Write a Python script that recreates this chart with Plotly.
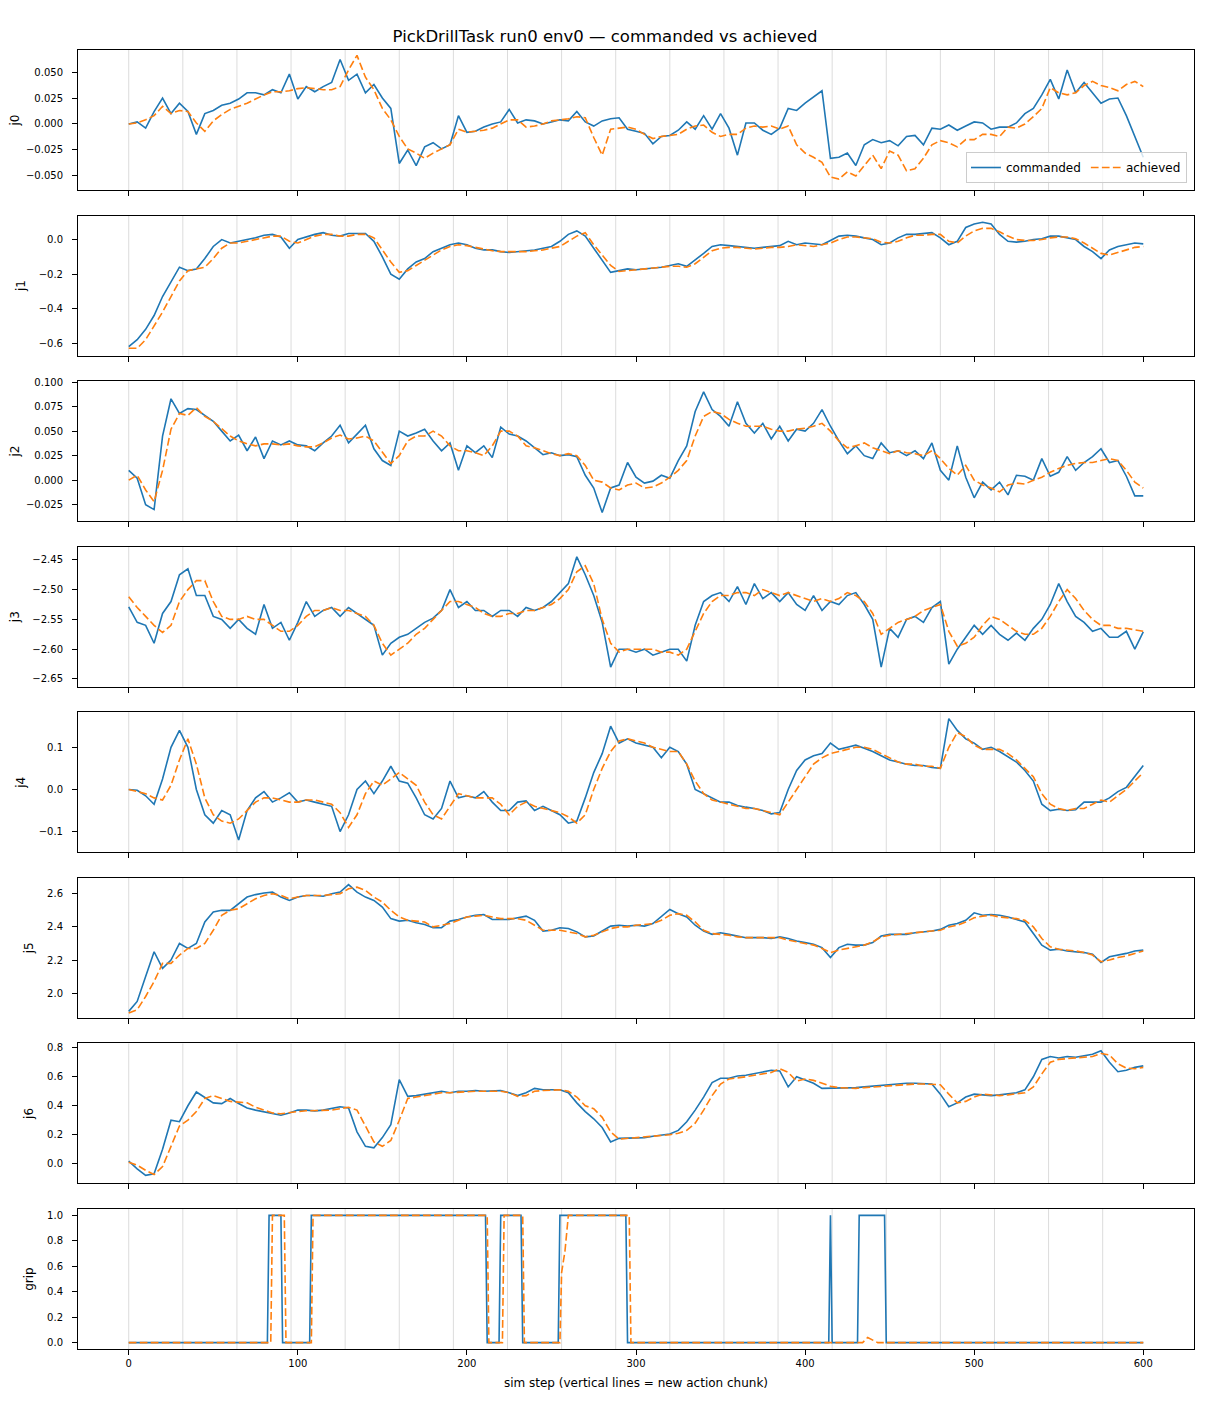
#!/usr/bin/env python3
"""
PickDrillTask run0 env0: commanded vs achieved joint targets, one panel per joint.
"""

import plotly.graph_objects as go
from plotly.subplots import make_subplots

# sim step grid the joint traces were read at
STEPS = list(range(0, 601, 5))

# first step of every action chunk (grey vertical lines)
CHUNK_STARTS = [0, 32, 64, 96, 128, 160, 192, 224, 256, 288, 320, 352, 384, 416, 448, 480, 512, 544, 576]

JOINT_NAMES = ["j0", "j1", "j2", "j3", "j4", "j5", "j6"]

j0_cmd = [
    0.000, 0.002, -0.004, 0.012, 0.025, 0.010, 0.020, 0.012, -0.010, 0.010,
    0.013, 0.018, 0.020, 0.024, 0.030, 0.030, 0.028, 0.033, 0.030, 0.048,
    0.024, 0.036, 0.031, 0.036, 0.040, 0.062, 0.042, 0.048, 0.030, 0.038,
    0.025, 0.015, -0.038, -0.025, -0.040, -0.022, -0.018, -0.024, -0.020, 0.008,
    -0.008, -0.007, -0.003, 0.000, 0.002, 0.014, 0.001, 0.004, 0.003, 0.000,
    0.002, 0.004, 0.003, 0.012, 0.002, -0.002, 0.003, 0.005, 0.006, -0.005,
    -0.007, -0.009, -0.019, -0.012, -0.011, -0.006, 0.002, -0.005, 0.008, -0.005,
    0.010, -0.004, -0.030, 0.001, 0.001, -0.006, -0.010, -0.004, 0.015, 0.013,
    0.020, 0.026, 0.032, -0.033, -0.032, -0.028, -0.040, -0.020, -0.015, -0.018,
    -0.016, -0.021, -0.012, -0.011, -0.020, -0.004, -0.005, -0.001, -0.006, -0.002,
    0.002, 0.001, -0.005, -0.003, -0.003, 0.001, 0.010, 0.015, 0.028, 0.043,
    0.024, 0.052, 0.030, 0.040, 0.030, 0.020, 0.024, 0.025, 0.008, -0.012,
    -0.032,
]
j0_ach = [
    0.000, 0.001, 0.004, 0.008, 0.017, 0.010, 0.013, 0.012, 0.001, -0.007,
    0.003, 0.009, 0.014, 0.017, 0.020, 0.024, 0.028, 0.031, 0.031, 0.032,
    0.034, 0.035, 0.034, 0.033, 0.033, 0.036, 0.052, 0.066, 0.045, 0.033,
    0.015, 0.004, -0.012, -0.024, -0.028, -0.033, -0.028, -0.024, -0.020, -0.005,
    -0.008, -0.007, -0.006, -0.004, 0.000, 0.004, 0.004, -0.003, -0.002, 0.000,
    0.003, 0.004, 0.005, 0.007, 0.006, -0.013, -0.030, -0.005, -0.004, -0.003,
    -0.005, -0.010, -0.014, -0.012, -0.011, -0.010, -0.005, -0.002, -0.001, -0.008,
    -0.012, -0.010, -0.010, -0.004, -0.002, -0.003, -0.002, -0.005, -0.002, -0.020,
    -0.028, -0.032, -0.037, -0.051, -0.053, -0.046, -0.050, -0.040, -0.030, -0.043,
    -0.026, -0.030, -0.045, -0.043, -0.033, -0.020, -0.016, -0.018, -0.022, -0.015,
    -0.015, -0.010, -0.010, -0.012, -0.003, -0.004, 0.000, 0.007, 0.015, 0.035,
    0.030, 0.028, 0.030, 0.037, 0.041, 0.037, 0.035, 0.032, 0.038, 0.041,
    0.036,
]

j1_cmd = [
    -0.62, -0.58, -0.52, -0.44, -0.33, -0.245, -0.16, -0.18, -0.17, -0.11,
    -0.04, 0.00, -0.02, -0.01, 0.00, 0.01, 0.025, 0.03, 0.015, -0.05,
    0.00, 0.015, 0.03, 0.04, 0.025, 0.02, 0.035, 0.035, 0.035, -0.01,
    -0.10, -0.20, -0.23, -0.17, -0.13, -0.11, -0.07, -0.05, -0.03, -0.02,
    -0.03, -0.05, -0.06, -0.06, -0.07, -0.075, -0.07, -0.065, -0.06, -0.05,
    -0.04, -0.01, 0.03, 0.05, 0.02, -0.05, -0.12, -0.19, -0.18, -0.17,
    -0.175, -0.17, -0.165, -0.16, -0.15, -0.14, -0.155, -0.12, -0.08, -0.04,
    -0.03, -0.035, -0.04, -0.045, -0.05, -0.045, -0.04, -0.035, -0.01, -0.03,
    -0.02, -0.025, -0.03, -0.005, 0.02, 0.025, 0.02, 0.01, 0.00, -0.03,
    -0.02, 0.01, 0.03, 0.03, 0.035, 0.04, 0.01, -0.03, -0.01, 0.07,
    0.09, 0.10, 0.09, 0.03, -0.01, -0.015, -0.01, 0.00, 0.005, 0.02,
    0.02, 0.01, 0.00, -0.04, -0.07, -0.11, -0.06, -0.04, -0.03, -0.02,
    -0.025,
]
j1_ach = [
    -0.63, -0.63, -0.58, -0.50, -0.42, -0.33, -0.24, -0.18, -0.17, -0.16,
    -0.11, -0.05, -0.02, -0.02, -0.01, 0.00, 0.01, 0.02, 0.02, -0.01,
    -0.02, 0.00, 0.02, 0.03, 0.03, 0.02, 0.02, 0.03, 0.03, 0.01,
    -0.06, -0.13, -0.19, -0.18, -0.15, -0.12, -0.09, -0.06, -0.04, -0.03,
    -0.035, -0.045, -0.055, -0.065, -0.07, -0.07, -0.07, -0.07, -0.065, -0.06,
    -0.05, -0.04, -0.01, 0.02, 0.04, -0.03, -0.09, -0.15, -0.185, -0.18,
    -0.175, -0.17, -0.165, -0.16, -0.155, -0.155, -0.16, -0.14, -0.10, -0.065,
    -0.05, -0.045, -0.045, -0.05, -0.055, -0.05, -0.045, -0.045, -0.04, -0.03,
    -0.035, -0.04, -0.03, -0.02, 0.00, 0.015, 0.015, 0.01, 0.005, -0.015,
    -0.02, -0.01, 0.01, 0.025, 0.025, 0.03, 0.03, -0.01, -0.02, 0.02,
    0.05, 0.065, 0.065, 0.045, 0.02, 0.00, -0.005, -0.005, 0.00, 0.01,
    0.015, 0.015, 0.005, -0.02, -0.05, -0.08, -0.09, -0.075, -0.06, -0.045,
    -0.04,
]

j2_cmd = [
    0.010, 0.002, -0.025, -0.030, 0.045, 0.083, 0.068, 0.073, 0.072, 0.066,
    0.060, 0.050, 0.040, 0.046, 0.030, 0.044, 0.022, 0.040, 0.036, 0.040,
    0.036, 0.035, 0.030, 0.038, 0.045, 0.056, 0.038, 0.047, 0.056, 0.032,
    0.020, 0.015, 0.050, 0.045, 0.048, 0.052, 0.040, 0.030, 0.038, 0.010,
    0.035, 0.028, 0.035, 0.023, 0.054, 0.047, 0.045, 0.040, 0.033, 0.026,
    0.028, 0.025, 0.026, 0.024, 0.005, -0.008, -0.033, -0.008, -0.005, 0.018,
    0.003, -0.003, -0.001, 0.005, 0.002, 0.020, 0.035, 0.070, 0.090, 0.072,
    0.065, 0.055, 0.080, 0.058, 0.048, 0.058, 0.042, 0.055, 0.040, 0.052,
    0.050, 0.058, 0.072, 0.055, 0.040, 0.027, 0.035, 0.025, 0.022, 0.038,
    0.028, 0.030, 0.025, 0.030, 0.022, 0.038, 0.010, 0.000, 0.035, 0.003,
    -0.018, -0.002, -0.010, -0.002, -0.015, 0.005, 0.004, 0.000, 0.022, 0.004,
    0.008, 0.024, 0.010, 0.018, 0.024, 0.032, 0.018, 0.020, 0.004, -0.016,
    -0.016,
]
j2_ach = [
    0.000, 0.005, -0.010, -0.022, 0.010, 0.052, 0.068, 0.066, 0.074, 0.065,
    0.060, 0.052, 0.045, 0.040, 0.037, 0.035, 0.037, 0.037, 0.036, 0.037,
    0.035, 0.034, 0.034, 0.038, 0.043, 0.046, 0.042, 0.043, 0.045, 0.040,
    0.028, 0.017, 0.025, 0.040, 0.045, 0.045, 0.050, 0.045, 0.035, 0.030,
    0.030, 0.028, 0.025, 0.035, 0.050, 0.050, 0.045, 0.035, 0.033, 0.030,
    0.027, 0.025, 0.027, 0.025, 0.015, 0.000, -0.002, -0.008, -0.010, -0.005,
    -0.003, -0.008, -0.007, -0.003, 0.003, 0.010, 0.020, 0.045, 0.065, 0.070,
    0.068, 0.062, 0.058, 0.055, 0.055, 0.055, 0.052, 0.050, 0.050, 0.052,
    0.053, 0.055, 0.058, 0.050, 0.040, 0.033, 0.035, 0.038, 0.033, 0.030,
    0.027, 0.030, 0.028, 0.027, 0.025, 0.030, 0.022, 0.012, 0.005, 0.015,
    0.000, -0.005, -0.008, -0.012, -0.005, -0.003, -0.004, 0.000, 0.003, 0.008,
    0.012, 0.015, 0.017, 0.018, 0.018, 0.020, 0.022, 0.020, 0.010, -0.002,
    -0.008,
]

j3_cmd = [
    -2.529, -2.555, -2.560, -2.590, -2.540, -2.520, -2.475, -2.465, -2.510, -2.510,
    -2.545, -2.550, -2.565, -2.550, -2.565, -2.575, -2.525, -2.565, -2.555, -2.585,
    -2.555, -2.520, -2.545, -2.535, -2.530, -2.545, -2.530, -2.540, -2.550, -2.560,
    -2.610, -2.590, -2.580, -2.575, -2.565, -2.555, -2.548, -2.535, -2.500, -2.530,
    -2.520, -2.535, -2.535, -2.545, -2.535, -2.535, -2.545, -2.530, -2.535, -2.530,
    -2.520, -2.505, -2.490, -2.445, -2.475, -2.510, -2.555, -2.630, -2.600, -2.600,
    -2.605, -2.600, -2.610, -2.605, -2.600, -2.600, -2.620, -2.560, -2.520, -2.510,
    -2.505, -2.520, -2.495, -2.525, -2.490, -2.515, -2.505, -2.520, -2.505, -2.525,
    -2.535, -2.510, -2.535, -2.520, -2.525, -2.510, -2.505, -2.525, -2.550, -2.630,
    -2.565, -2.580, -2.550, -2.545, -2.555, -2.530, -2.520, -2.625, -2.600, -2.580,
    -2.560, -2.575, -2.560, -2.575, -2.585, -2.573, -2.585, -2.565, -2.550, -2.525,
    -2.490, -2.520, -2.545, -2.555, -2.570, -2.565, -2.580, -2.580, -2.570, -2.600,
    -2.571,
]
j3_ach = [
    -2.512, -2.530, -2.545, -2.560, -2.572, -2.560, -2.520, -2.500, -2.485, -2.485,
    -2.520, -2.545, -2.550, -2.550, -2.545, -2.550, -2.550, -2.560, -2.570, -2.570,
    -2.560, -2.545, -2.535, -2.535, -2.530, -2.535, -2.535, -2.540, -2.545, -2.560,
    -2.590, -2.610, -2.600, -2.590, -2.575, -2.565, -2.550, -2.535, -2.520, -2.520,
    -2.525, -2.530, -2.540, -2.545, -2.545, -2.540, -2.540, -2.535, -2.535, -2.530,
    -2.525, -2.515, -2.500, -2.470, -2.460, -2.490, -2.550, -2.590, -2.605, -2.600,
    -2.600, -2.600, -2.600, -2.605, -2.605, -2.610, -2.600, -2.570, -2.540, -2.520,
    -2.510, -2.510, -2.505, -2.505, -2.510, -2.500, -2.505, -2.510, -2.505, -2.510,
    -2.515, -2.520, -2.515, -2.520, -2.515, -2.505, -2.510, -2.520, -2.540, -2.575,
    -2.565, -2.555, -2.550, -2.545, -2.535, -2.530, -2.525, -2.570, -2.595, -2.590,
    -2.580, -2.560, -2.545, -2.550, -2.560, -2.570, -2.575, -2.575, -2.565, -2.545,
    -2.520, -2.500, -2.515, -2.535, -2.550, -2.560, -2.560, -2.565, -2.565, -2.568,
    -2.570,
]

j4_cmd = [
    0.000, -0.002, -0.015, -0.035, 0.025, 0.100, 0.140, 0.100, 0.000, -0.060,
    -0.080, -0.050, -0.060, -0.120, -0.050, -0.020, -0.005, -0.030, -0.020, -0.008,
    -0.030, -0.025, -0.030, -0.035, -0.040, -0.100, -0.060, 0.000, 0.020, -0.010,
    0.020, 0.055, 0.020, 0.015, -0.020, -0.060, -0.070, -0.045, 0.020, -0.020,
    -0.015, -0.020, -0.005, -0.030, -0.050, -0.050, -0.030, -0.027, -0.050, -0.040,
    -0.050, -0.060, -0.080, -0.075, -0.020, 0.040, 0.085, 0.150, 0.110, 0.120,
    0.110, 0.105, 0.100, 0.075, 0.100, 0.090, 0.060, 0.000, -0.010, -0.020,
    -0.030, -0.030, -0.038, -0.042, -0.045, -0.050, -0.058, -0.055, 0.000, 0.045,
    0.070, 0.080, 0.085, 0.110, 0.095, 0.100, 0.105, 0.098, 0.090, 0.080,
    0.070, 0.065, 0.060, 0.057, 0.057, 0.052, 0.050, 0.168, 0.140, 0.120,
    0.110, 0.095, 0.100, 0.090, 0.078, 0.065, 0.045, 0.020, -0.035, -0.050,
    -0.047, -0.050, -0.048, -0.030, -0.030, -0.030, -0.020, -0.005, 0.005, 0.030,
    0.057,
]
j4_ach = [
    0.000, -0.005, -0.010, -0.020, -0.025, 0.010, 0.070, 0.120, 0.060, -0.020,
    -0.060, -0.075, -0.080, -0.070, -0.050, -0.030, -0.020, -0.020, -0.025, -0.030,
    -0.030, -0.025, -0.025, -0.030, -0.035, -0.055, -0.090, -0.060, -0.010, 0.020,
    0.010, 0.025, 0.040, 0.025, 0.010, -0.030, -0.060, -0.070, -0.040, -0.010,
    -0.015, -0.020, -0.020, -0.020, -0.035, -0.060, -0.040, -0.030, -0.040, -0.045,
    -0.050, -0.055, -0.065, -0.080, -0.060, 0.000, 0.050, 0.090, 0.115, 0.120,
    0.115, 0.110, 0.100, 0.095, 0.090, 0.090, 0.060, 0.020, -0.010, -0.025,
    -0.030, -0.035, -0.040, -0.045, -0.045, -0.050, -0.055, -0.060, -0.030, 0.000,
    0.030, 0.060, 0.075, 0.085, 0.090, 0.095, 0.100, 0.100, 0.095, 0.085,
    0.075, 0.065, 0.060, 0.060, 0.055, 0.055, 0.050, 0.100, 0.135, 0.125,
    0.105, 0.095, 0.095, 0.095, 0.085, 0.070, 0.050, 0.030, -0.010, -0.035,
    -0.045, -0.050, -0.045, -0.045, -0.035, -0.025, -0.030, -0.015, 0.000, 0.020,
    0.040,
]

j5_cmd = [
    1.89, 1.95, 2.10, 2.25, 2.15, 2.20, 2.30, 2.27, 2.30, 2.43,
    2.49, 2.50, 2.50, 2.54, 2.58, 2.595, 2.605, 2.61, 2.58, 2.56,
    2.58, 2.59, 2.59, 2.585, 2.60, 2.61, 2.655, 2.61, 2.58, 2.56,
    2.52, 2.45, 2.435, 2.44, 2.425, 2.415, 2.395, 2.395, 2.435, 2.445,
    2.46, 2.47, 2.475, 2.445, 2.445, 2.445, 2.455, 2.465, 2.44, 2.375,
    2.38, 2.395, 2.39, 2.37, 2.34, 2.345, 2.375, 2.405, 2.41, 2.405,
    2.41, 2.405, 2.42, 2.46, 2.505, 2.48, 2.46, 2.41, 2.375, 2.355,
    2.365, 2.355, 2.345, 2.335, 2.335, 2.335, 2.33, 2.34, 2.33, 2.315,
    2.305, 2.295, 2.275, 2.215, 2.275, 2.295, 2.29, 2.29, 2.305, 2.345,
    2.355, 2.355, 2.355, 2.365, 2.37, 2.375, 2.385, 2.41, 2.42, 2.44,
    2.485, 2.47, 2.475, 2.47, 2.46, 2.445, 2.43, 2.36, 2.29, 2.26,
    2.265, 2.255, 2.25, 2.245, 2.235, 2.185, 2.22, 2.23, 2.24, 2.255,
    2.26,
]
j5_ach = [
    1.88, 1.90, 1.98, 2.07, 2.18, 2.18, 2.23, 2.27, 2.27, 2.30,
    2.38, 2.47, 2.50, 2.51, 2.54, 2.57, 2.59, 2.60, 2.59, 2.57,
    2.58, 2.59, 2.59, 2.59, 2.595, 2.60, 2.63, 2.64, 2.62, 2.58,
    2.55, 2.50, 2.46, 2.44, 2.435, 2.43, 2.40, 2.41, 2.42, 2.44,
    2.46, 2.465, 2.47, 2.46, 2.45, 2.45, 2.45, 2.44, 2.41, 2.38,
    2.38, 2.38, 2.37, 2.36, 2.34, 2.35, 2.37, 2.39, 2.40, 2.40,
    2.41, 2.415, 2.42, 2.44, 2.47, 2.48, 2.47, 2.43, 2.38, 2.36,
    2.355, 2.35, 2.34, 2.335, 2.335, 2.335, 2.335, 2.335, 2.32, 2.31,
    2.30, 2.29, 2.27, 2.245, 2.26, 2.27, 2.28, 2.29, 2.31, 2.34,
    2.35, 2.355, 2.36, 2.365, 2.37, 2.375, 2.38, 2.40, 2.41, 2.43,
    2.455, 2.465, 2.47, 2.46, 2.455, 2.45, 2.44, 2.40, 2.33, 2.28,
    2.265, 2.26, 2.255, 2.245, 2.23, 2.19, 2.20, 2.215, 2.225, 2.24,
    2.255,
]

j6_cmd = [
    0.018, -0.035, -0.080, -0.070, 0.100, 0.300, 0.290, 0.400, 0.495, 0.460,
    0.420, 0.415, 0.450, 0.415, 0.385, 0.370, 0.360, 0.350, 0.335, 0.350,
    0.370, 0.370, 0.365, 0.370, 0.380, 0.393, 0.385, 0.220, 0.120, 0.110,
    0.180, 0.270, 0.580, 0.465, 0.470, 0.480, 0.490, 0.500, 0.490, 0.500,
    0.500, 0.505, 0.500, 0.505, 0.505, 0.490, 0.470, 0.490, 0.520, 0.510,
    0.510, 0.510, 0.490, 0.420, 0.360, 0.310, 0.250, 0.150, 0.175, 0.175,
    0.180, 0.180, 0.190, 0.195, 0.205, 0.230, 0.290, 0.370, 0.460, 0.560,
    0.590, 0.590, 0.605, 0.610, 0.620, 0.630, 0.645, 0.640, 0.530, 0.600,
    0.580, 0.555, 0.520, 0.520, 0.525, 0.520, 0.525, 0.530, 0.535, 0.540,
    0.550, 0.555, 0.555, 0.555, 0.555, 0.550, 0.480, 0.393, 0.420, 0.460,
    0.480, 0.475, 0.470, 0.475, 0.480, 0.490, 0.510, 0.600, 0.720, 0.740,
    0.730, 0.740, 0.735, 0.745, 0.755, 0.780, 0.700, 0.635, 0.645, 0.665,
    0.675,
]
j6_ach = [
    0.010, -0.010, -0.045, -0.075, -0.020, 0.120, 0.260, 0.300, 0.360, 0.450,
    0.470, 0.450, 0.430, 0.425, 0.420, 0.390, 0.370, 0.350, 0.345, 0.355,
    0.360, 0.365, 0.365, 0.365, 0.370, 0.380, 0.390, 0.370, 0.260, 0.150,
    0.120, 0.160, 0.300, 0.450, 0.460, 0.470, 0.480, 0.490, 0.490, 0.495,
    0.500, 0.500, 0.500, 0.500, 0.500, 0.490, 0.465, 0.470, 0.500, 0.505,
    0.505, 0.510, 0.500, 0.460, 0.400, 0.380, 0.320, 0.220, 0.170, 0.175,
    0.180, 0.185, 0.190, 0.195, 0.200, 0.210, 0.230, 0.280, 0.370, 0.470,
    0.550, 0.585, 0.590, 0.600, 0.610, 0.620, 0.630, 0.655, 0.630, 0.570,
    0.585, 0.575, 0.555, 0.535, 0.525, 0.520, 0.520, 0.525, 0.530, 0.535,
    0.540, 0.545, 0.550, 0.550, 0.550, 0.550, 0.545, 0.480, 0.420, 0.430,
    0.460, 0.480, 0.475, 0.470, 0.475, 0.480, 0.490, 0.530, 0.620, 0.700,
    0.720, 0.725, 0.730, 0.735, 0.740, 0.760, 0.750, 0.690, 0.660, 0.655,
    0.665,
]

# gripper: piecewise steps, listed at the switching steps
grip_cmd_x = [0, 82, 83, 90, 91, 107, 108, 211, 212, 219, 220, 232, 233, 254, 255,
              294, 295, 414, 415, 416, 431, 432, 447, 448, 600]
grip_cmd = [0, 0, 1, 1, 0, 0, 1, 1, 0, 0, 1, 1, 0, 0, 1,
            1, 0, 0, 1, 0, 0, 1, 1, 0, 0]
grip_ach_x = [0, 84, 85, 92, 93, 108, 109, 212, 213, 221, 222, 233, 234, 255, 256,
              258, 260, 296, 297, 434, 437, 440, 443, 600]
grip_ach = [0, 0, 1, 1, 0, 0, 1, 1, 0, 0, 1, 1, 0, 0, 0.55,
            0.72, 1, 1, 0, 0, 0.04, 0.02, 0, 0]

COMMANDED = [j0_cmd, j1_cmd, j2_cmd, j3_cmd, j4_cmd, j5_cmd, j6_cmd]
ACHIEVED = [j0_ach, j1_ach, j2_ach, j3_ach, j4_ach, j5_ach, j6_ach]

BLUE = "#1f77b4"
ORANGE = "#ff7f0e"
FONT = "DejaVu Sans"

# per-panel y axis: (range, dtick, tickformat)
Y_AXES = [
    ([-0.0635, 0.0712], 0.025, ".3f"),
    ([-0.672, 0.139], 0.2, ".1f"),
    ([-0.0418, 0.101], 0.025, ".3f"),
    ([-2.663, -2.428], 0.05, ".2f"),
    ([-0.149, 0.183], 0.1, ".1f"),
    ([1.851, 2.696], 0.2, ".1f"),
    ([-0.136, 0.830], 0.2, ".1f"),
    ([-0.05, 1.05], 0.2, ".1f"),
]

for name, arr in zip(JOINT_NAMES, COMMANDED + ACHIEVED):
    assert len(arr) == len(STEPS), (name, len(arr))

n_rows = len(JOINT_NAMES) + 1
fig = make_subplots(rows=n_rows, cols=1, shared_xaxes=True, vertical_spacing=0.0197)

dash = "7.7px,3.3px"
for i, name in enumerate(JOINT_NAMES):
    fig.add_trace(
        go.Scatter(x=STEPS, y=COMMANDED[i], mode="lines", name="commanded",
                   line=dict(color=BLUE, width=1.6), showlegend=(i == 0), legendgroup="cmd"),
        row=i + 1, col=1,
    )
    fig.add_trace(
        go.Scatter(x=STEPS, y=ACHIEVED[i], mode="lines", name="achieved",
                   line=dict(color=ORANGE, width=1.6, dash=dash), showlegend=(i == 0), legendgroup="ach"),
        row=i + 1, col=1,
    )

fig.add_trace(
    go.Scatter(x=grip_cmd_x, y=grip_cmd, mode="lines", name="commanded",
               line=dict(color=BLUE, width=1.6), showlegend=False, legendgroup="cmd"),
    row=n_rows, col=1,
)
fig.add_trace(
    go.Scatter(x=grip_ach_x, y=grip_ach, mode="lines", name="achieved",
               line=dict(color=ORANGE, width=1.6, dash=dash), showlegend=False, legendgroup="ach"),
    row=n_rows, col=1,
)

for c in CHUNK_STARTS:
    fig.add_vline(x=c, line_width=1, line_color="#dcdcdc", layer="below", row="all", col=1)

labels = JOINT_NAMES + ["grip"]
for r in range(1, n_rows + 1):
    rng, dtick, fmt = Y_AXES[r - 1]
    fig.update_yaxes(
        range=rng, dtick=dtick, tickformat=fmt, automargin=False,
        title_text=labels[r - 1], title_font=dict(size=12, color="black"), title_standoff=10,
        showline=True, mirror=True, linecolor="black", linewidth=1,
        ticks="outside", ticklen=5, tickwidth=1, tickcolor="black", ticklabelstandoff=7,
        tickfont=dict(size=10, color="black"), showgrid=False, zeroline=False,
        row=r, col=1,
    )
    fig.update_xaxes(
        range=[-30, 630], tickvals=[0, 100, 200, 300, 400, 500, 600], automargin=False,
        showline=True, mirror=True, linecolor="black", linewidth=1,
        ticks="outside", ticklen=5, tickwidth=1, tickcolor="black",
        tickfont=dict(size=10, color="black"), showgrid=False, zeroline=False,
        showticklabels=(r == n_rows),
        row=r, col=1,
    )
fig.update_xaxes(title_text="sim step (vertical lines = new action chunk)",
                 title_font=dict(size=12, color="black"), title_standoff=10, row=n_rows, col=1)

# the page body adds an 8px offset, so margins are shifted up/left by that much
fig.update_layout(
    width=1210,
    height=1408,
    margin=dict(l=70, r=24, t=42, b=67, autoexpand=False),
    paper_bgcolor="white",
    plot_bgcolor="white",
    font=dict(family=FONT, color="black"),
    title=dict(text="PickDrillTask run0 env0 — commanded vs achieved", x=597 / 1210, xref="container",
               y=1 - 28 / 1408, yref="container", xanchor="center", yanchor="middle",
               font=dict(size=16.5, color="black")),
    legend=dict(orientation="h", x=0.9937, y=0.8976, xanchor="right", yanchor="bottom",
                bgcolor="rgba(255,255,255,0.8)", bordercolor="#cccccc", borderwidth=1,
                font=dict(size=12), itemwidth=30, tracegroupgap=0),
    showlegend=True,
)

fig.write_html("out.html")
